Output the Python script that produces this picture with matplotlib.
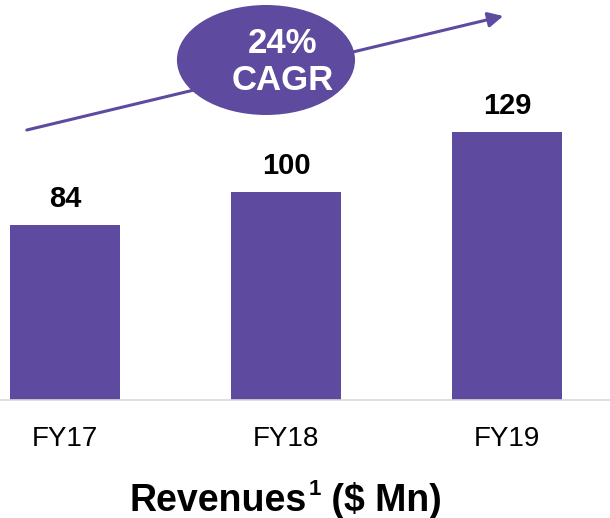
"""Revenues bar chart with a CAGR callout."""

import matplotlib.pyplot as plt
from matplotlib.patches import Ellipse

plt.rcParams["font.family"] = ["Liberation Sans", "DejaVu Sans"]

years = ["FY17", "FY18", "FY19"]
revenues = [84, 100, 129]
cagr_label = "24%\nCAGR"
title_main, title_note, title_unit = "Revenues", "1", " ($ Mn)"

PURPLE = "#5E4A9E"

fig = plt.figure(figsize=(6.1, 5.18), dpi=100)
ax = fig.add_axes([0, 0.2278, 1, 0.7722])

x = range(len(years))
bars = ax.bar(x, revenues, width=0.5, color=PURPLE)
for rect, val in zip(bars, revenues):
    ax.annotate(str(val), (rect.get_x() + rect.get_width() / 2, rect.get_height()),
                xytext=(0, 13), textcoords="offset points",
                ha="center", va="baseline", fontsize=21, fontweight="bold")

ax.set_xlim(-0.294, 2.466)
ax.set_ylim(0, 192.3)
ax.set_xticks(list(x))
ax.set_xticklabels(years, fontsize=20)
ax.tick_params(axis="x", length=0, pad=19)
ax.set_yticks([])
for side in ("top", "left", "right"):
    ax.spines[side].set_visible(False)
ax.spines["bottom"].set_color("#D9D9D9")
ax.spines["bottom"].set_linewidth(1.2)

# growth arrow and CAGR bubble
ax.annotate("", xy=(0.825, 0.96), xytext=(0.044, 0.675),
            xycoords="axes fraction", textcoords="axes fraction",
            arrowprops=dict(arrowstyle="-|>,head_length=0.9,head_width=0.45",
                            color=PURPLE, lw=2.2, shrinkA=0, shrinkB=0),
            annotation_clip=False)
ax.add_patch(Ellipse((0.436, 0.85), 0.292, 0.275, transform=ax.transAxes,
                     facecolor=PURPLE, edgecolor="none", zorder=3, clip_on=False))
ax.text(0.463, 0.845, cagr_label, transform=ax.transAxes, ha="center", va="center",
        color="white", fontsize=25, fontweight="bold", linespacing=1.15, zorder=4)

# title with a superscript footnote marker, built from three pieces
t_main = fig.text(0.213, 0.0135, title_main, ha="left", va="baseline",
                  fontsize=27, fontweight="bold")
t_note = ax.annotate(title_note, xy=(1, 0.5), xycoords=t_main, xytext=(1, 4.5),
                     textcoords="offset points", ha="left", va="baseline",
                     fontsize=16, fontweight="bold", annotation_clip=False)
ax.annotate(title_unit, xy=(1, 0), xycoords=(t_note, t_main), ha="left",
            va="bottom", fontsize=27, fontweight="bold", annotation_clip=False)

fig.savefig("out.png", dpi=100)
